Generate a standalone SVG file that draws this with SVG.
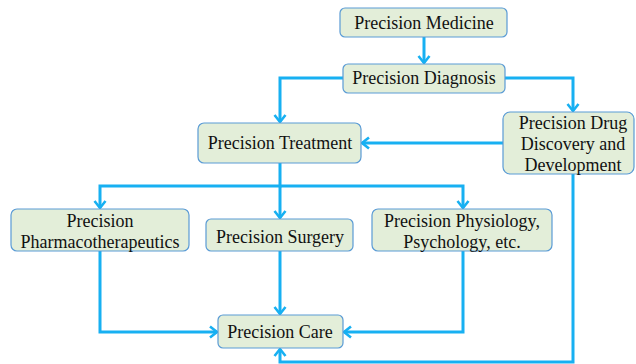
<svg xmlns="http://www.w3.org/2000/svg" width="636" height="364" viewBox="0 0 636 364">
<style>
.box{fill:#e3eed9;stroke:#5a9bd5;stroke-width:1.2}
.t{font-family:"Liberation Serif","Times New Roman",serif;font-size:18px;fill:#111;text-anchor:middle}
.c{fill:none;stroke:#17b0f2;stroke-width:3;stroke-linejoin:miter}
</style>
<defs>
<marker id="a" markerUnits="userSpaceOnUse" markerWidth="14" markerHeight="14" viewBox="0 0 14 14" refX="11" refY="7" orient="auto">
<path d="M4,1.5 L11,7 L4,12.5" fill="none" stroke="#17b0f2" stroke-width="2.6"/>
</marker>
</defs>
<rect width="636" height="364" fill="#fff"/>
<g id="connectors">
<path class="c" d="M424,37 V63" marker-end="url(#a)"/>
<path class="c" d="M343,78 H280 V122" marker-end="url(#a)"/>
<path class="c" d="M505,78 H573 V111" marker-end="url(#a)"/>
<path class="c" d="M503,143 H362" marker-end="url(#a)"/>
<path class="c" d="M280,163 V186 H100 V208" marker-end="url(#a)"/>
<path class="c" d="M280,186 V218" marker-end="url(#a)"/>
<path class="c" d="M280,186 H463 V208" marker-end="url(#a)"/>
<path class="c" d="M100,251 V332 H217" marker-end="url(#a)"/>
<path class="c" d="M280,251 V314" marker-end="url(#a)"/>
<path class="c" d="M463,251 V332 H344" marker-end="url(#a)"/>
<path class="c" d="M573,174 V362 H280 V349" marker-end="url(#a)"/>
</g>
<g id="medicine"><rect class="box" x="340" y="8" width="167" height="29" rx="5"/><text class="t" x="424" y="29">Precision Medicine</text></g>
<g id="diagnosis"><rect class="box" x="343" y="64" width="162" height="29" rx="5"/><text class="t" x="424" y="84">Precision Diagnosis</text></g>
<g id="treatment"><rect class="box" x="198" y="123" width="163" height="40" rx="6"/><text class="t" x="280" y="149">Precision Treatment</text></g>
<g id="drug"><rect class="box" x="503" y="112" width="131" height="62" rx="7"/><text class="t" x="573" y="129">Precision Drug</text><text class="t" x="573" y="150">Discovery and</text><text class="t" x="573" y="171">Development</text></g>
<g id="pharmaco"><rect class="box" x="11" y="209" width="178" height="42" rx="6"/><text class="t" x="100" y="227">Precision</text><text class="t" x="100" y="248">Pharmacotherapeutics</text></g>
<g id="surgery"><rect class="box" x="206" y="219" width="147" height="32" rx="5"/><text class="t" x="280" y="243">Precision Surgery</text></g>
<g id="physiology"><rect class="box" x="372" y="209" width="180" height="42" rx="6"/><text class="t" x="462" y="227">Precision Physiology,</text><text class="t" x="462" y="248">Psychology, etc.</text></g>
<g id="care"><rect class="box" x="218" y="315" width="125" height="33" rx="5"/><text class="t" x="280" y="338">Precision Care</text></g>
</svg>
